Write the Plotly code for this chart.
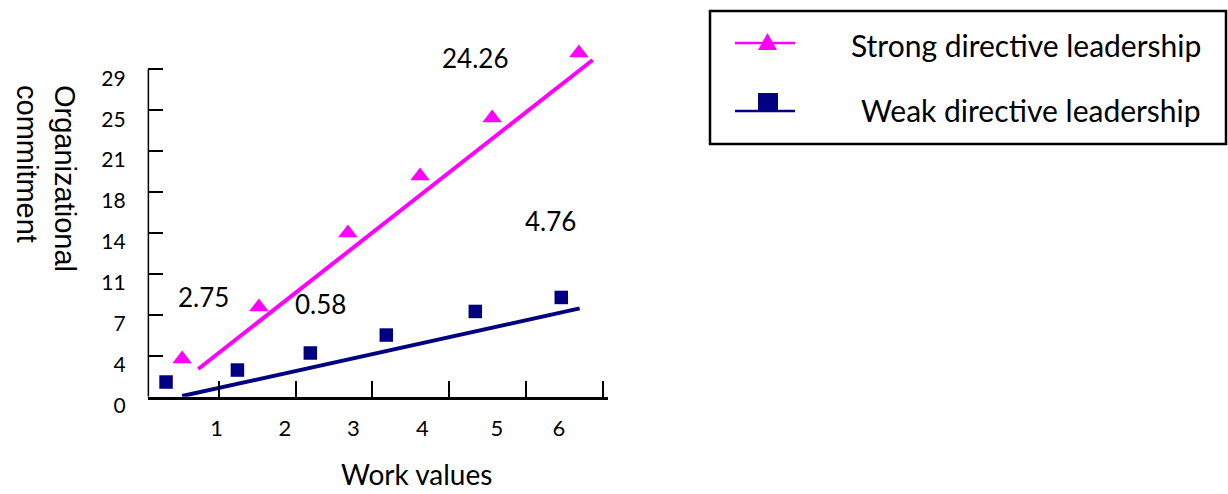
import plotly.graph_objects as go

W, H = 1228, 494

# ---------------- data ----------------
work_strong = [0.52, 1.52, 2.68, 3.62, 4.56, 5.69]
commit_strong = [3.34, 7.94, 14.50, 19.55, 24.68, 30.44]
work_weak = [0.31, 1.24, 2.19, 3.18, 4.34, 5.46]
commit_weak = [1.30, 2.36, 3.87, 5.46, 7.55, 8.79]

fit_strong_x = [0.73, 5.87]
fit_strong_y = [2.45, 29.82]
fit_weak_x = [0.52, 5.70]
fit_weak_y = [0.06, 7.82]

y_tick_labels = ["0", "4", "7", "11", "14", "18", "21", "25", "29"]
y_tick_vals = [i * 29 / 8 for i in range(len(y_tick_labels))]
x_tick_labels = ["1", "2", "3", "4", "5", "6"]
x_label_pos = [0.97, 1.86, 2.75, 3.65, 4.62, 5.43]
x_tick_marks = [1, 2, 3, 4, 5, 6]

series_names = ["Strong directive leadership", "Weak directive leadership"]
slope_labels = ["24.26", "4.76", "2.75", "0.58"]

MAGENTA = "#FF00FF"
NAVY = "#000080"
FONT = "Lato"


def px(p):
    return p / W


def py(p):
    return 1 - p / H


fig = go.Figure()
fig.add_trace(go.Scatter(x=fit_strong_x, y=fit_strong_y, mode="lines",
                         line=dict(color=MAGENTA, width=4), showlegend=False,
                         hoverinfo="skip"))
fig.add_trace(go.Scatter(x=fit_weak_x, y=fit_weak_y, mode="lines",
                         line=dict(color=NAVY, width=4), showlegend=False,
                         hoverinfo="skip"))
fig.add_trace(go.Scatter(x=work_strong, y=commit_strong, mode="markers",
                         name=series_names[0], cliponaxis=False,
                         marker=dict(symbol="triangle-up", size=17, color=MAGENTA,
                                     line=dict(width=0)), showlegend=False))
fig.add_trace(go.Scatter(x=work_weak, y=commit_weak, mode="markers",
                         name=series_names[1], cliponaxis=False,
                         marker=dict(symbol="square", size=13.5, color=NAVY,
                                     line=dict(width=0)), showlegend=False))

shapes = []
# y spine from 0 to 29
shapes.append(dict(type="line", xref="x", yref="y", x0=0.07, x1=0.07, y0=0,
                   y1=y_tick_vals[-1], line=dict(color="black", width=3)))
# legend box
shapes.append(dict(type="rect", xref="paper", yref="paper", x0=px(710), x1=px(1226),
                   y0=py(144), y1=py(11), line=dict(color="black", width=2.5)))
# legend lines
shapes.append(dict(type="line", xref="paper", yref="paper", x0=px(735), x1=px(795),
                   y0=py(43), y1=py(43), line=dict(color=MAGENTA, width=2.5)))
shapes.append(dict(type="line", xref="paper", yref="paper", x0=px(735), x1=px(795),
                   y0=py(111), y1=py(111), line=dict(color=NAVY, width=2.5)))
# legend symbols
shapes.append(dict(type="path", xref="paper", yref="paper",
                   path=f"M {px(758)},{py(50)} L {px(777)},{py(50)} L {px(767.5)},{py(33)} Z",
                   fillcolor=MAGENTA, line=dict(width=0)))
shapes.append(dict(type="rect", xref="paper", yref="paper", x0=px(758), x1=px(778),
                   y0=py(111), y1=py(93), fillcolor=NAVY, line=dict(width=0)))

annotations = []
annotations.append(dict(text=series_names[0], xref="paper", yref="paper", x=px(1203),
                        y=py(45), xanchor="right", yanchor="middle", showarrow=False,
                        font=dict(family=FONT, size=30, color="black")))
annotations.append(dict(text=series_names[1], xref="paper", yref="paper", x=px(1203),
                        y=py(110), xanchor="right", yanchor="middle", showarrow=False,
                        font=dict(family=FONT, size=30, color="black")))
slope_pos = [(474.5, 58), (550, 221), (203, 297), (320, 304)]
for t, (ax_, ay_) in zip(slope_labels, slope_pos):
    annotations.append(dict(text=t, xref="paper", yref="paper", x=px(ax_), y=py(ay_),
                            xanchor="center", yanchor="middle", showarrow=False,
                            font=dict(family=FONT, size=26, color="black")))
annotations.append(dict(text="Work values", xref="paper", yref="paper", x=px(416),
                        y=py(493), xanchor="center", yanchor="bottom", showarrow=False,
                        font=dict(family=FONT, size=28, color="black")))
annotations.append(dict(text="Organizational<br>commitment", xref="paper", yref="paper",
                        x=px(46), y=py(178), xanchor="center", yanchor="middle",
                        showarrow=False, textangle=90, align="left",
                        font=dict(family="Liberation Sans", size=29, color="black")))

fig.update_layout(
    template="none",
    width=W, height=H, autosize=False,
    margin=dict(l=0, r=0, t=0, b=0, pad=0, autoexpand=False),
    paper_bgcolor="white", plot_bgcolor="white",
    showlegend=False,
    shapes=shapes,
    annotations=annotations,
    xaxis=dict(
        automargin=False,
        range=[0.07, 6.07], domain=[px(147.63), px(608.07)],
        showline=True, linewidth=3, linecolor="black",
        showgrid=False, zeroline=False,
        tickmode="array", tickvals=x_label_pos, ticktext=x_tick_labels,
        ticks="", ticklabelstandoff=10,
        tickfont=dict(family=FONT, size=22, color="black"),
        minor=dict(tickmode="array", tickvals=x_tick_marks, ticks="inside",
                   ticklen=16, tickwidth=2, tickcolor="black", showgrid=False),
    ),
    yaxis=dict(
        automargin=False,
        range=[0, 30.5], domain=[py(396.7), py(52.3)],
        showline=False, showgrid=False, zeroline=False,
        tickmode="array", tickvals=y_tick_vals, ticktext=y_tick_labels,
        ticks="inside", ticklen=15, tickwidth=2, tickcolor="black",
        ticklabelstandoff=21, ticklabelshift=9,
        tickfont=dict(family=FONT, size=21, color="black"),
    ),
)

fig.write_html(
    "out.html",
    config={"displayModeBar": False, "responsive": False},
    post_script="document.body.style.margin='0';document.body.style.padding='0';"
                "document.body.style.overflow='hidden';",
)
